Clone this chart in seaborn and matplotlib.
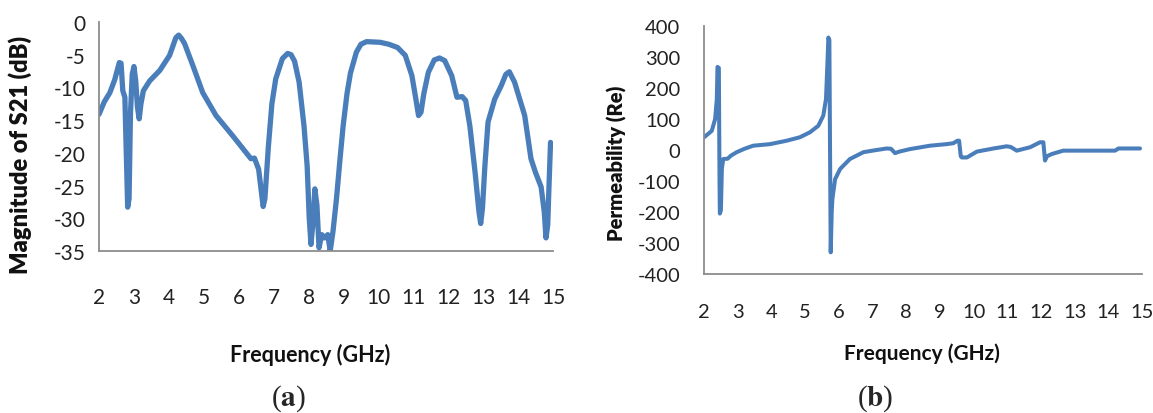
import numpy as np
import pandas as pd
import matplotlib
matplotlib.use("Agg")
import matplotlib.pyplot as plt
import seaborn as sns

# Panel (a): magnitude of S21 (dB) versus frequency (GHz)
s21_freq = [2.0, 2.15, 2.31, 2.45, 2.58, 2.63, 2.68, 2.74, 2.78, 2.82, 2.86, 2.9, 2.95,
            3.0, 3.05, 3.1, 3.15, 3.2, 3.27, 3.45, 3.74, 4.02, 4.2, 4.28, 4.36, 4.45,
            4.69, 4.97, 5.35, 5.83, 6.35, 6.45, 6.57, 6.65, 6.7, 6.75, 6.85, 6.95, 7.06,
            7.25, 7.4, 7.5, 7.6, 7.73, 7.87, 7.96, 8.02, 8.07, 8.12, 8.18, 8.24, 8.3,
            8.38, 8.46, 8.55, 8.62, 8.7, 8.8, 8.9, 8.99, 9.1, 9.2, 9.37, 9.5, 9.66,
            10.05, 10.3, 10.55, 10.77, 10.96, 11.08, 11.15, 11.22, 11.3, 11.43, 11.6,
            11.75, 11.9, 12.1, 12.25, 12.4, 12.5, 12.62, 12.77, 12.88, 12.93, 12.98,
            13.05, 13.14, 13.33, 13.52, 13.65, 13.75, 13.9, 14.19, 14.37, 14.5, 14.66,
            14.75, 14.8, 14.85, 14.88, 14.93]
s21_db = [-14.1, -12.2, -10.8, -8.8, -6.2, -6.3, -10.5, -11.5, -20.0, -28.3, -27.0, -14.0, -8.0,
          -6.8, -9.0, -13.0, -14.8, -12.5, -10.5, -9.0, -7.4, -5.1, -2.4, -2.0, -2.5, -3.3,
          -6.7, -10.8, -14.3, -17.4, -20.9, -20.8, -22.5, -26.0, -28.2, -27.0, -19.0, -12.5, -8.7,
          -5.6, -4.8, -5.0, -6.0, -9.2, -15.9, -22.0, -30.0, -34.0, -31.0, -25.5, -28.0, -34.5,
          -32.5, -33.0, -32.5, -35.0, -32.0, -27.0, -21.0, -15.9, -11.0, -7.8, -4.6, -3.4, -3.0,
          -3.1, -3.4, -3.9, -5.1, -8.2, -12.0, -14.3, -13.8, -11.0, -7.7, -5.8,
          -5.5, -5.9, -8.2, -11.5, -11.4, -12.0, -15.9, -23.0, -29.0, -30.8, -28.5,
          -22.0, -15.3, -11.8, -9.7, -8.0, -7.6, -9.2, -14.3, -20.9, -23.0, -25.2,
          -29.0, -33.0, -31.0, -26.0, -18.4]

# Panel (b): real part of permeability versus frequency (GHz)
mu_freq = [2.0, 2.1, 2.23, 2.33, 2.38, 2.4, 2.44, 2.46, 2.47, 2.5, 2.53, 2.57, 2.7, 2.8,
           2.97, 3.2, 3.46, 3.96, 4.45, 4.84, 5.14, 5.39, 5.54, 5.62, 5.67, 5.69, 5.72,
           5.74, 5.76, 5.79, 5.81, 5.89, 6.04, 6.33, 6.73, 7.0, 7.42, 7.55, 7.67, 7.8,
           8.11, 8.71, 9.2, 9.4, 9.52, 9.57, 9.62, 9.65, 9.8, 10.1, 10.59, 10.98, 11.1,
           11.28, 11.68, 11.97, 12.07, 12.1, 12.12, 12.18, 12.32, 12.66, 14.2, 14.3, 14.94]
mu_re = [41, 50, 62, 100, 165, 268, 265, -100, -205, -195, -60, -29, -28, -18,
         -7, 4, 14, 19, 30, 41, 57, 78, 111, 165, 300, 363, 355,
         0, -330, -200, -158, -94, -61, -29, -7, -2, 5, 4, -10, -5,
         3, 14, 19, 22, 30, 30, -20, -24, -24, -5, 5, 12, 10,
         -2, 9, 25, 25, -10, -34, -20, -13, -2, -2, 5, 5]

freq_ticks = list(range(2, 16))
s21_ticks = [0, -5, -10, -15, -20, -25, -30, -35]
mu_ticks = [400, 300, 200, 100, 0, -100, -200, -300, -400]

sns.set_style("white")
plt.rcParams["font.family"] = ["Lato", "DejaVu Sans"]
plt.rcParams["mathtext.fontset"] = "stix"

line_color = "#4A7EBB"
axis_color = "#8C8C8C"
tick_color = "#222222"
label_color = "#111111"

fig = plt.figure(figsize=(11.53, 4.14), dpi=100)
ax_a = fig.add_axes([0.0859, 0.3913, 0.3937, 0.5531])
ax_b = fig.add_axes([0.6106, 0.3357, 0.3799, 0.5990])

df_a = pd.DataFrame({"Frequency": s21_freq, "S21": s21_db})
df_b = pd.DataFrame({"Frequency": mu_freq, "Mu": mu_re})

sns.lineplot(data=df_a, x="Frequency", y="S21", ax=ax_a, color=line_color,
             linewidth=3.8, estimator=None, sort=False)
sns.lineplot(data=df_b, x="Frequency", y="Mu", ax=ax_b, color=line_color,
             linewidth=2.9, estimator=None, sort=False)

def style_axes(ax, yticks, ylim, xpad, ypad, size):
    ax.set_xlim(2, 15)
    ax.set_ylim(*ylim)
    ax.set_xticks(freq_ticks)
    ax.set_yticks(yticks)
    ax.set_xticklabels([str(v) for v in freq_ticks])
    ax.set_yticklabels([str(v) for v in yticks])
    for side in ("top", "right"):
        ax.spines[side].set_visible(False)
    for side in ("left", "bottom"):
        ax.spines[side].set_color(axis_color)
        ax.spines[side].set_linewidth(1.3)
    ax.tick_params(axis="x", direction="out", length=6, width=1.2, color=axis_color,
                   pad=xpad, labelsize=size, labelcolor=tick_color)
    ax.tick_params(axis="y", length=0, pad=ypad, labelsize=size, labelcolor=tick_color)
    ax.set_xlabel("")
    ax.set_ylabel("")
    ax.grid(False)

style_axes(ax_a, s21_ticks, (-35, 0), 20, 10, 15)
style_axes(ax_b, mu_ticks, (-400, 400), 15, 17, 14.5)

fig.text(20 / 1153, 1 - 155 / 414, "Magnitude of S21 (dB)", rotation=90,
         ha="center", va="center", fontsize=17, fontweight="heavy", color=label_color)
fig.text(617 / 1153, 1 - 163 / 414, "Permeability (Re)", rotation=90,
         ha="center", va="center", fontsize=14.5, fontweight="heavy", color=label_color)
fig.text(310 / 1153, 1 - 355 / 414, "Frequency (GHz)", ha="center", va="center",
         fontsize=15.5, fontweight="bold", color=label_color)
fig.text(922 / 1153, 1 - 354 / 414, "Frequency (GHz)", ha="center", va="center",
         fontsize=15, fontweight="bold", color=label_color)
fig.text(288 / 1153, 1 - 399 / 414, r"($\mathbf{a}$)", ha="center", va="center",
         fontsize=21, family="Liberation Serif")
fig.text(875 / 1153, 1 - 399 / 414, r"($\mathbf{b}$)", ha="center", va="center",
         fontsize=21, family="Liberation Serif")

fig.savefig("out.png", dpi=100, facecolor="white")
